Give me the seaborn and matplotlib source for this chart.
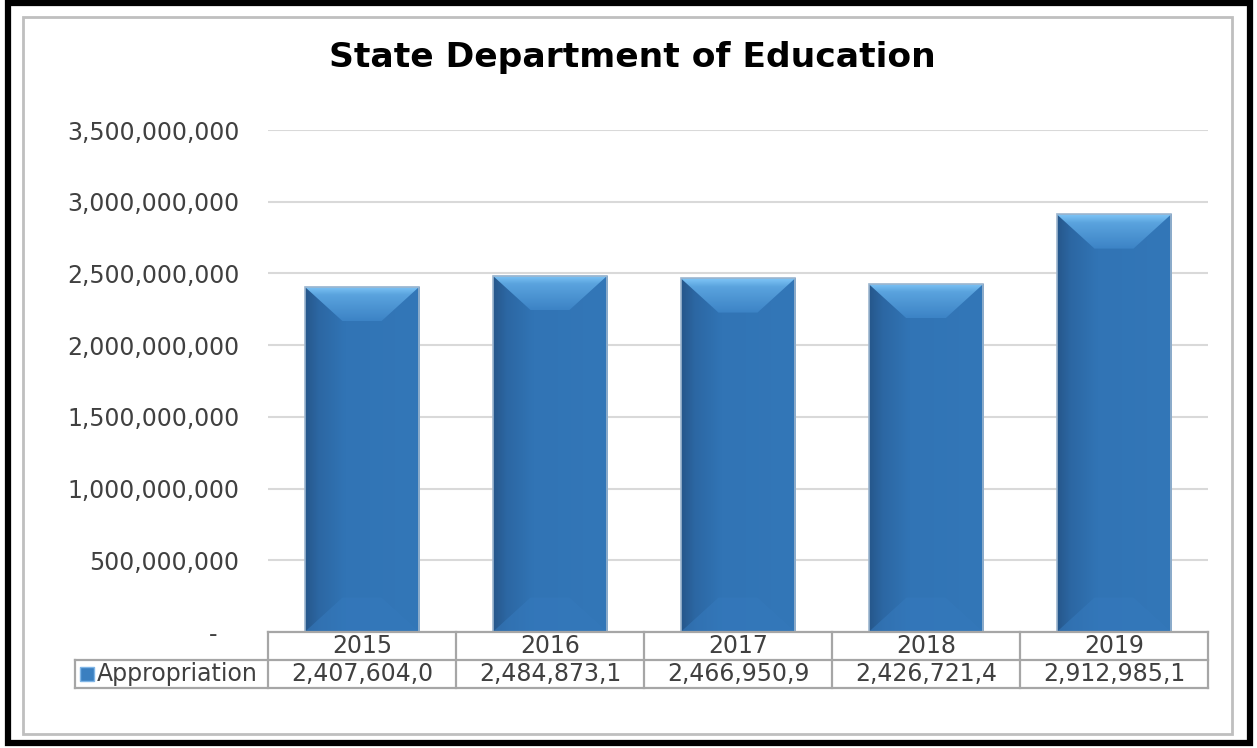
import numpy as np
import pandas as pd
import matplotlib
matplotlib.use("Agg")
import matplotlib.pyplot as plt
import seaborn as sns
from matplotlib.patches import Rectangle, Polygon
from matplotlib.colors import LinearSegmentedColormap
from matplotlib.ticker import FuncFormatter

years = ["2015", "2016", "2017", "2018", "2019"]
appropriation = [2407604000, 2484873100, 2466950900, 2426721400, 2912985100]
table_labels = ["2,407,604,0", "2,484,873,1", "2,466,950,9", "2,426,721,4", "2,912,985,1"]
series_name = "Appropriation"
title = "State Department of Education"
yticks = [0, 500000000, 1000000000, 1500000000, 2000000000, 2500000000, 3000000000, 3500000000]

sns.set_theme(style="white")
plt.rcParams["font.family"] = ["DejaVu Sans"]

W, H = 1257, 748
fig = plt.figure(figsize=(W / 100, H / 100), dpi=100)
fig.patch.set_facecolor("white")

# frames
fig.patches.append(Rectangle((8 / W, 5 / H), 1242 / W, 740 / H, transform=fig.transFigure,
                             fill=False, edgecolor="black", linewidth=4.5))
fig.patches.append(Rectangle((23 / W, (H - 734) / H), (1232 - 23) / W, (734 - 17) / H,
                             transform=fig.transFigure, fill=False, edgecolor="#BFBFBF", linewidth=2))

ax = fig.add_axes([268 / W, 1 - 632 / H, (1208 - 268) / W, (632 - 130) / H])
df = pd.DataFrame({"year": years, "value": appropriation})
sns.barplot(data=df, x="year", y="value", ax=ax, color="#3174B5", width=0.61,
            saturation=1, edgecolor="none", zorder=3)

ax.set_ylim(0, 3500000000)
ax.set_yticks(yticks)
ax.yaxis.set_major_formatter(FuncFormatter(lambda v, p: "-   " if v == 0 else f"{int(v):,}"))
ax.grid(axis="y", color="#D9D9D9", linewidth=1.5, zorder=0)
ax.grid(axis="x", visible=False)
for s in ax.spines.values():
    s.set_visible(False)
ax.tick_params(axis="y", left=False, labelsize=17, labelcolor="#404040", pad=14.5)
ax.tick_params(axis="x", bottom=False, labelbottom=False)
ax.set_xlabel("")
ax.set_ylabel("")
xlim = ax.get_xlim()

# bevel effects on bars
side_cmap = LinearSegmentedColormap.from_list("side", [(0, "#26578B"), (0.12, "#2C67A3"),
                                                     (0.35, "#3174B5"), (1, "#3377B8")])
top_cmap = LinearSegmentedColormap.from_list("top", [(0, "#3C83C5"), (0.75, "#5AA3DE"), (1, "#80C6F7")])
bevel_dy = 240000000
for patch in list(ax.patches):
    x0, w, h = patch.get_x(), patch.get_width(), patch.get_height()
    grad = np.linspace(0, 1, 256).reshape(1, -1)
    im = ax.imshow(grad, extent=[x0, x0 + w, 0, h], aspect="auto", cmap=side_cmap,
                   origin="lower", zorder=3.1)
    im.set_clip_path(patch)
    dx = w * 0.33
    top = Polygon([(x0, h), (x0 + w, h), (x0 + w - dx, h - bevel_dy), (x0 + dx, h - bevel_dy)],
                  closed=True, facecolor="none", edgecolor="none", zorder=3.2)
    ax.add_patch(top)
    vgrad = np.linspace(0, 1, 256).reshape(-1, 1)
    im2 = ax.imshow(vgrad, extent=[x0, x0 + w, h - bevel_dy, h], aspect="auto", cmap=top_cmap,
                    origin="lower", zorder=3.2)
    im2.set_clip_path(top)
    bot = Polygon([(x0, 0), (x0 + w, 0), (x0 + w - dx, bevel_dy), (x0 + dx, bevel_dy)],
                  closed=True, facecolor="#3579BC", edgecolor="none", alpha=0.6, zorder=3.15)
    ax.add_patch(bot)
    ax.add_patch(Rectangle((x0, 0), w, h, fill=False, edgecolor="#9DB6CF", linewidth=1.2, zorder=3.3))

ax.set_xlim(xlim)
ax.set_ylim(0, 3500000000)

# data table drawn in axes coordinates
rh = 28 / 502
lw_frac = 193 / 940
n = len(years)
lc = "#A6A6A6"
tr = ax.transAxes
kw = dict(color=lc, linewidth=1.6, transform=tr, clip_on=False, zorder=6,
          solid_capstyle="projecting")
ax.plot([0, 1], [0, 0], **kw)
ax.plot([-lw_frac, 1], [-rh, -rh], **kw)
ax.plot([-lw_frac, 1], [-2 * rh, -2 * rh], **kw)
ax.plot([-lw_frac, -lw_frac], [-rh, -2 * rh], **kw)
for i in range(n + 1):
    ax.plot([i / n, i / n], [0, -2 * rh], **kw)
for i in range(n):
    ax.text((i + 0.5) / n, -0.5 * rh, years[i], transform=tr, ha="center", va="center",
            fontsize=17, color="#404040")
    ax.text((i + 0.5) / n, -1.5 * rh, table_labels[i], transform=tr, ha="center", va="center",
            fontsize=17, color="#404040")
ax.text(-10 / 940, -1.5 * rh, series_name, transform=tr, ha="right", va="center",
        fontsize=17, color="#404040")
ax.plot([-(268 - 87) / 940], [-1.5 * rh], marker="s", markersize=10, color="#3A7FC0",
        markeredgecolor="#7FB5E6", transform=tr, clip_on=False, zorder=6)

fig.text(632 / W, 1 - 58 / H, title, ha="center", va="center", fontsize=24.8,
         fontweight="bold", color="black")

fig.savefig("out.png", dpi=100)
